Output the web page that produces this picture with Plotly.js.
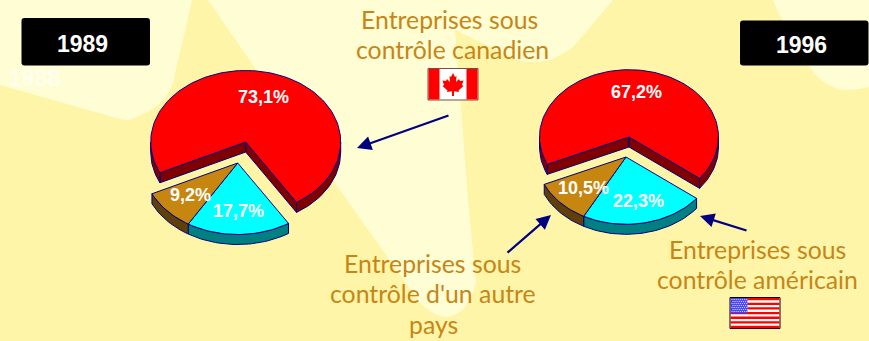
<!DOCTYPE html>
<html><head><meta charset="utf-8">
<script src="https://cdn.plot.ly/plotly-3.0.1.min.js"></script>
<style>html,body{margin:0;padding:0;background:#FEF5A9;overflow:hidden}#c{width:869px;height:341px}</style>
</head><body><div id="c"></div>
<script>
// ---- Data ----
const categories = ["Entreprises sous contrôle canadien", "Entreprises sous contrôle américain", "Entreprises sous contrôle d'un autre pays"];
const values1989 = [73.1, 17.7, 9.2];
const values1996 = [67.2, 22.3, 10.5];
const labels1989 = ["73,1%", "17,7%", "9,2%"];
const labels1996 = ["67,2%", "22,3%", "10,5%"];
const years = ["1989", "1996"];

// ---- Styles ----
const topColors = ["#FF0000", "#00FFFF", "#C68610"];
const sideColors = ["#800000", "#008080", "#604008"];
const navy = "#000080";
const textGold = "#C68616";
const light = "#FFFDD3";

const pies = [
  {vals: values1989, labels: labels1989, cx: 245.7, cy: 142, rx: 95, ry: 71.5, start: 244.5, depth: 10, ox: -8, oy: 21,
   lab: [[263.5, 97], [238, 211], [190, 195]]},
  {vals: values1996, labels: labels1996, cx: 629, cy: 137, rx: 89.5, ry: 67.3, start: 246, depth: 10, ox: -3, oy: 20,
   lab: [[636, 92], [638, 201], [583, 188]]}
];

function pt(p, deg, dx, dy) {
  const t = deg * Math.PI / 180;
  return [p.cx + dx + p.rx * Math.sin(t), p.cy + dy + -p.ry * Math.cos(t)];
}
function arc(p, a0, a1, dx, dy) {
  const out = [], n = Math.max(2, Math.ceil(Math.abs(a1 - a0) / 2));
  for (let i = 0; i <= n; i++) out.push(pt(p, a0 + (a1 - a0) * i / n, dx, dy));
  return out;
}
function poly(pts, fill, name) {
  return {type: "scatter", mode: "lines", x: pts.map(q => q[0]), y: pts.map(q => q[1]), fill: "toself",
    fillcolor: fill, line: {color: navy, width: 1}, hoverinfo: "skip", showlegend: false, name: name};
}
const traces = [];
pies.forEach(p => {
  let a = p.start;
  const segs = p.vals.map((v, i) => { const s = {i, a0: a, a1: a + v * 3.6}; a = s.a1; return s; });
  segs.forEach(s => {
    const exploded = s.i > 0;
    const dx = exploded ? p.ox : 0, dy = exploded ? p.oy : 0;
    if (!exploded) {
      // faces of the cut, visible inside the notch
      [s.a0, s.a1].forEach(e => {
        const q = pt(p, e, dx, dy);
        const w = [[p.cx, p.cy], q, [q[0], q[1] + p.depth], [p.cx, p.cy + p.depth], [p.cx, p.cy]];
        traces.push(poly(w, sideColors[s.i], categories[s.i]));
      });
    }
    // outer rim on the visible front half
    for (let k = 0; k < 2; k++) {
      const lo = Math.max(s.a0, 90 + 360 * k), hi = Math.min(s.a1, 270 + 360 * k);
      if (hi > lo) {
        const upper = arc(p, lo, hi, dx, dy), lower = arc(p, hi, lo, dx, dy + p.depth);
        const ring = upper.concat(lower); ring.push(upper[0]);
        traces.push(poly(ring, sideColors[s.i], categories[s.i]));
      }
    }
  });
  segs.forEach(s => {
    const exploded = s.i > 0;
    const dx = exploded ? p.ox : 0, dy = exploded ? p.oy : 0;
    const apex = [p.cx + dx, p.cy + dy];
    const face = [apex].concat(arc(p, s.a0, s.a1, dx, dy)); face.push(apex);
    traces.push(poly(face, topColors[s.i], categories[s.i]));
  });
});

// ---- Background, boxes and flags ----
const shapes = [];
const bg = (path, fill) => shapes.push({type: "path", xref: "x", yref: "y", path, fillcolor: fill, line: {width: 0}, layer: "below"});
bg("M0,0 L192,0 C186,28 178,60 173,83 C168,97 160,108 130,120 C124,120 118,119 113,117 L0,85 Z", light);
bg("M208,0 L255,68 L347,200 L420,303 C430,312 438,317 447,317 C458,315 468,310 476,283 L468,200 L465,160 L455,30 L517,60 C530,63 542,62 550,60 C558,57 566,52 573,47 L613,0 Z", light);
bg("M773,0 C780,18 795,45 807,63 C815,76 825,86 843,90 C852,90 861,89 869,87 L869,0 Z", light);

function roundBox(x0, y0, x1, y1, r) {
  return `M${x0 + r},${y0} L${x1 - r},${y0} Q${x1},${y0} ${x1},${y0 + r} L${x1},${y1 - r} Q${x1},${y1} ${x1 - r},${y1} L${x0 + r},${y1} Q${x0},${y1} ${x0},${y1 - r} L${x0},${y0 + r} Q${x0},${y0} ${x0 + r},${y0} Z`;
}
bg(roundBox(21.5, 18, 150, 65.5, 3), "#000000");
bg(roundBox(740, 20.5, 868.5, 65.5, 3), "#000000");

const rect = (x0, y0, x1, y1, fill, line) => shapes.push({type: "rect", xref: "x", yref: "y", x0, y0, x1, y1, fillcolor: fill,
  line: line ? {color: line, width: 1} : {width: 0}, layer: "below"});
// Canada
rect(428, 68.5, 478, 100, "#FFFFFF", "#7A4A4A");
rect(428.5, 69, 439.5, 99.5, "#FF0000");
rect(466.5, 69, 477.5, 99.5, "#FF0000");
const leaf = [[0,73],[2,77],[3.5,76],[3,82],[6,79],[7,81],[10.5,80.5],[9,85],[10.5,86],[5.5,90.5],[6,92],[1,91.2],[1,96],[-1,96],[-1,91.2],[-6,92],[-5.5,90.5],[-10.5,86],[-9,85],[-10.5,80.5],[-7,81],[-6,79],[-3,82],[-3.5,76],[-2,77]];
bg("M" + leaf.map(q => (453 + q[0]) + "," + q[1]).join(" L") + " Z", "#FF0000");
// United States
rect(730, 297.5, 780, 328.5, "#FFFFFF", "#000000");
for (let i = 0; i < 7; i++) rect(730.5, 298 + i * 4.64, 779.5, 298 + i * 4.64 + 2.32, "#FF0000");
rect(730.5, 298, 747.5, 313.5, "#3A3AE8");

// stars of the flag canton
const starX = [], starY = [];
for (let r = 0; r < 7; r++) for (let c = 0; c < 8; c++) { starX.push(732 + c * 2.1 + (r % 2)); starY.push(299.5 + r * 2); }
traces.push({type: "scatter", mode: "markers", x: starX, y: starY, marker: {size: 1.4, color: "#C8C8FF"}, hoverinfo: "skip", showlegend: false});

// ---- Text ----
const ann = [];
const T = (x, y, text, size, color, family, bold) => ann.push({xref: "x", yref: "y", x, y, text: bold ? "<b>" + text + "</b>" : text, showarrow: false,
  xanchor: "center", yanchor: "middle", font: {size, color, family}});
const arial = "Liberation Sans, Arial, sans-serif";
const gill = "Lato, sans-serif";
pies.forEach(p => p.labels.forEach((t, i) => T(p.lab[i][0], p.lab[i][1], t, 18, "#FFFFFF", arial, true)));
T(82.5, 44, years[0], 23, "#FFFFFF", arial, true);
T(801, 45, years[1], 23, "#FFFFFF", arial, true);
T(34.5, 78, "1988", 23, "#FFFFEE", arial, true);
[["Entreprises sous", 449.5, 19], ["contrôle canadien", 452, 49],
 ["Entreprises sous", 432, 263], ["contrôle d'un autre", 433, 293], ["pays", 433, 324],
 ["Entreprises sous", 757, 249], ["contrôle américain", 757, 279]].forEach(l => T(l[1], l[2], l[0], 24.8, textGold, gill, false));

// arrows
[[450, 115, 357, 148], [506, 254, 551, 215], [748, 231, 700, 216]].forEach(a => ann.push({
  xref: "x", yref: "y", axref: "x", ayref: "y", x: a[2], y: a[3], ax: a[0], ay: a[1], text: "", showarrow: true,
  arrowhead: 2, arrowsize: 1.3, arrowwidth: 2.2, arrowcolor: navy, standoff: 0, startstandoff: 0}));

const hidden = {visible: false, fixedrange: true};
Plotly.newPlot("c", traces, {
  width: 869, height: 341, margin: {l: 0, r: 0, t: 0, b: 0}, showlegend: false, hovermode: false,
  paper_bgcolor: "#FEF5A9", plot_bgcolor: "rgba(0,0,0,0)",
  xaxis: Object.assign({range: [0, 869]}, hidden),
  yaxis: Object.assign({range: [341, 0]}, hidden),
  shapes, annotations: ann
}, {displayModeBar: false, staticPlot: true});
</script></body></html>
